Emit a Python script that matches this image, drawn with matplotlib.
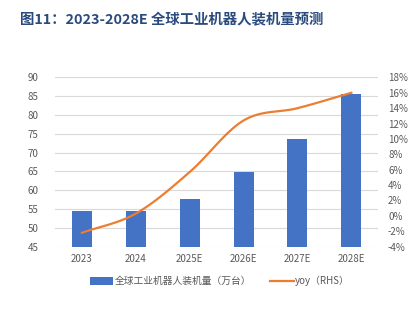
import matplotlib
matplotlib.use("Agg")
import matplotlib.pyplot as plt
import numpy as np

plt.rcParams['font.family'] = ['Noto Sans CJK SC', 'DejaVu Sans']

years = ['2023', '2024', '2025E', '2026E', '2027E', '2028E']
installs = [54.5, 54.5, 57.8, 64.8, 73.6, 85.5]  # 万台
yoy = [-2.2, 0.3, 5.7, 12.4, 14.0, 16.0]  # %


def smooth(xs, ys, n=20):
    # catmull-rom curve through the points, like excel's smoothed line
    xs = np.asarray(xs, float)
    ys = np.asarray(ys, float)
    px = np.concatenate([[2 * xs[0] - xs[1]], xs, [2 * xs[-1] - xs[-2]]])
    py = np.concatenate([[2 * ys[0] - ys[1]], ys, [2 * ys[-1] - ys[-2]]])
    outx, outy = [], []
    t = np.linspace(0, 1, n)
    for i in range(1, len(px) - 2):
        for p, out in ((px, outx), (py, outy)):
            p0, p1, p2, p3 = p[i - 1], p[i], p[i + 1], p[i + 2]
            out.extend(0.5 * (2 * p1 + (-p0 + p2) * t
                              + (2 * p0 - 5 * p1 + 4 * p2 - p3) * t ** 2
                              + (-p0 + 3 * p1 - 3 * p2 + p3) * t ** 3))
    return outx, outy


fig = plt.figure(figsize=(4.13, 3.28), dpi=100)
ax = fig.add_axes([0.133, 0.248, 0.783, 0.516])
x = np.arange(len(years))

bars = ax.bar(x, installs, width=0.37, color='#4472C4', zorder=2,
              label='全球工业机器人装机量（万台）')
ax.set_ylim(45, 90)
ax.set_yticks(np.arange(45, 91, 5))
ax.set_xlim(-0.5, len(years) - 0.5)
ax.set_xticks(x)
ax.set_xticklabels(years)
ax.grid(axis='y', color='#D9D9D9', linewidth=0.8, zorder=0)
ax.set_axisbelow(True)

ax2 = ax.twinx()
sx, sy = smooth(x, yoy)
line, = ax2.plot(sx, sy, color='#ED7D31', linewidth=1.6, zorder=3,
                 label='yoy（RHS）')
ax2.set_ylim(-4, 18)
ax2.set_yticks(np.arange(-4, 19, 2))
ax2.set_yticklabels([f'{v}%' for v in range(-4, 19, 2)])

for a in (ax, ax2):
    for s in a.spines.values():
        s.set_visible(False)
    a.tick_params(length=0, labelsize=7, colors='#595959')
ax.tick_params(axis='y', pad=12)
ax2.tick_params(axis='y', pad=7)
ax.tick_params(axis='x', pad=5)

fig.legend([bars, line], ['全球工业机器人装机量（万台）', 'yoy（RHS）'],
           loc='center', bbox_to_anchor=(0.532, 0.143), ncol=2, frameon=False,
           fontsize=7, labelcolor='#595959', handlelength=2.4,
           handleheight=0.9, handletextpad=0.1, columnspacing=2.0)

fig.text(0.048, 0.938, '图11：2023-2028E 全球工业机器人装机量预测',
         fontsize=10.4, fontweight='bold', color='#2B4B7E', va='center')

fig.savefig('out.png', dpi=100)
